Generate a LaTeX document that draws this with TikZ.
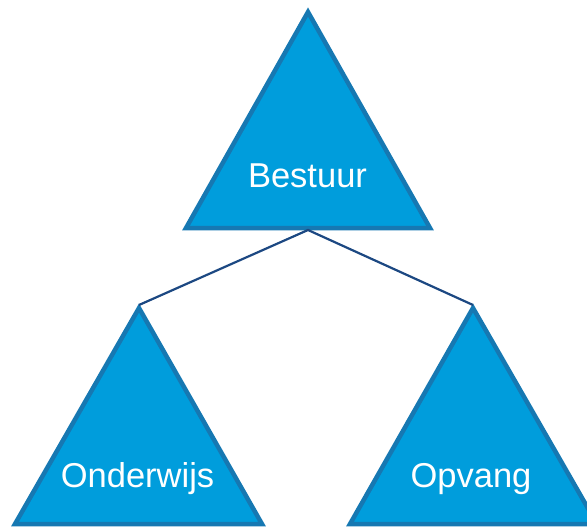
\documentclass[tikz,border=0pt]{standalone}
\usepackage{fontspec}
\setmainfont{Liberation Sans}
\definecolor{trifill}{RGB}{0,157,220}
\definecolor{tristroke}{RGB}{22,120,178}
\definecolor{linkcol}{RGB}{28,72,130}
\begin{document}
\begin{tikzpicture}[x=1pt,y=-1pt,
  tri/.style={fill=trifill,draw=tristroke,line width=4.5pt,line join=miter},
  link/.style={draw=linkcol,line width=2.2pt},
  lbl/.style={text=white,font=\fontsize{34.5}{41}\selectfont,anchor=base,inner sep=0pt}]
\useasboundingbox (0,0) rectangle (587,527);
\begin{scope}
\clip (0,0) rectangle (587,527);
% top
\coordinate (tA) at (308,12);
\draw[tri] (tA) -- (186,228) -- (430,228) -- cycle;
% bottom left
\coordinate (lA) at (139,308);
\draw[tri] (lA) -- (15,524) -- (262,524) -- cycle;
% bottom right
\coordinate (rA) at (473,308);
\draw[tri] (rA) -- (350,524) -- (597,524) -- cycle;
\end{scope}
\coordinate (tC) at (308,230);
\coordinate (lC) at (139,305);
\coordinate (rC) at (473,305);
\draw[link] (lC) -- (tC) -- (rC);
\node[lbl] (best) at (307.5,187) {Bestuur};
\node[lbl] (ond) at (137.5,487) {Onderwijs};
\node[lbl] (opv) at (471,487) {Opvang};
\end{tikzpicture}
\end{document}
